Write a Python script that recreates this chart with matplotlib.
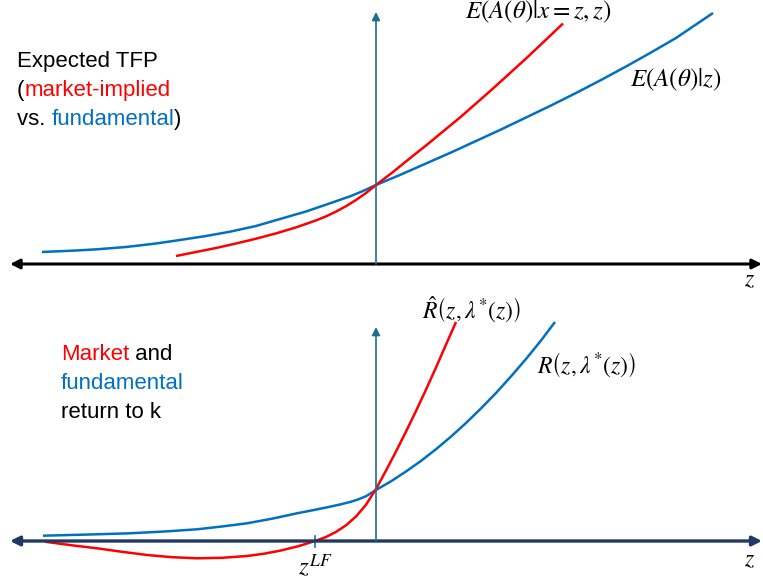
import matplotlib.pyplot as plt

plt.rcParams['font.family'] = ['Liberation Sans', 'DejaVu Sans']
plt.rcParams['mathtext.fontset'] = 'stix'

RED = '#FF0000'
BLUE = '#0070C0'
TEAL = '#1F6E8F'
NAVY = '#1F3864'

# top panel: expected TFP (z relative to the vertical axis, height above the z axis)
top_blue_z = [-334, -300, -279, -250, -220, -196, -170, -146, -120, -96, -70, -46, -25, -13, 0,
              25, 50, 75, 100, 125, 150, 175, 200, 225, 250, 275, 300, 337]
top_blue_h = [12, 13.5, 14.7, 17, 20.5, 24, 28, 32.3, 38, 45, 52.5, 60.7, 68, 73, 79,
              89.5, 100.5, 111.5, 123, 134.5, 146.5, 158.5, 171, 184, 197.5, 211.5, 226, 251]
top_red_z = [-200, -180, -160, -140, -120, -100, -80, -60, -50, -40, -30, -20, -10, 0,
             17, 33, 50, 67, 84, 100, 117, 133, 150, 167, 187]
top_red_h = [8, 12, 16, 20.5, 25.3, 30.6, 36.6, 43.6, 47.6, 52.4, 57.8, 64, 71, 79,
             92, 105, 118.5, 132.5, 146.5, 160.5, 175.5, 190, 205.5, 221.5, 240.5]

# bottom panel: market and fundamental return to k
bot_blue_z = [-333, -290, -246, -210, -179, -155, -129, -104, -79, -62, -46, -36, -26, -18, -10, 0,
              15, 30, 45, 60, 75, 90, 105, 120, 135, 150, 165, 179]
bot_blue_h = [5.3, 6.4, 7.7, 9.6, 11.7, 14.4, 17.7, 22.3, 27.7, 31, 34.3, 36.5, 39, 41.5, 44.8, 51,
              59.7, 69.5, 80.1, 91.8, 104.4, 118, 132.6, 148, 164.6, 182, 200.5, 219]
bot_red_z = [-331, -305, -279, -254, -229, -204, -179, -154, -129, -112, -96, -78, -61,
             -50, -40, -30, -20, -10, 0, 10, 20, 30, 40, 50, 60, 70, 80]
bot_red_h = [-0.7, -4.2, -7.3, -10.8, -14, -16.2, -17.3, -16.8, -15, -12.7, -9.7, -5.3, 0,
             4, 9.1, 15.7, 24.5, 36.3, 52, 70.4, 89.5, 109.4, 130, 151.4, 173.5, 196.4, 219]
z_lf = -61


def colored_line(ax, x, y, pieces, size=16):
    # draws text pieces of different colours one after another on one baseline
    fig = ax.figure
    r = fig.canvas.get_renderer()
    px, py = ax.transData.transform((x, y))
    for s, c in pieces:
        t = fig.text(px / fig.dpi / fig.get_figwidth(), py / fig.dpi / fig.get_figheight(),
                     s, color=c, fontsize=size, ha='left', va='baseline')
        px = t.get_window_extent(r).x1


def axes_arrows(ax, left, right, top, hcolor, hlw):
    ax.annotate('', xy=(right, 0), xytext=(left, 0),
                arrowprops=dict(arrowstyle='<|-|>', mutation_scale=14, lw=hlw,
                                color=hcolor, shrinkA=0, shrinkB=0))
    ax.annotate('', xy=(0, top), xytext=(0, 0),
                arrowprops=dict(arrowstyle='-|>', mutation_scale=12, lw=1.2,
                                color=TEAL, shrinkA=0, shrinkB=0))


fig = plt.figure(figsize=(7.63, 5.84), dpi=100)

ax1 = fig.add_axes([0, 1 - 290 / 584, 1, 290 / 584])
ax1.set_xlim(-376, 763 - 376)
ax1.set_ylim(-26, 264)
ax1.axis('off')
axes_arrows(ax1, -366, 386, 252, 'black', 2.2)
ax1.plot(top_blue_z, top_blue_h, color=BLUE, lw=1.8, solid_capstyle='butt')
ax1.plot(top_red_z, top_red_h, color=RED, lw=1.8, solid_capstyle='butt')
ax1.text(89, 252, r'$E(A(\theta)|x=z,z)$', fontsize=18, ha='left', va='center')
ax1.text(254, 184, r'$E(A(\theta)|z)$', fontsize=18, ha='left', va='center')
ax1.text(374, -16, r'$z$', fontsize=17, ha='center', va='center')

ax2 = fig.add_axes([0, 0, 1, 294 / 584])
ax2.set_xlim(-376, 763 - 376)
ax2.set_ylim(-43, 251)
ax2.axis('off')
axes_arrows(ax2, -366, 386, 214, NAVY, 2.4)
ax2.plot(bot_blue_z, bot_blue_h, color=BLUE, lw=1.8, solid_capstyle='butt')
ax2.plot(bot_red_z, bot_red_h, color=RED, lw=1.8, solid_capstyle='butt')
ax2.plot([z_lf, z_lf], [-6, 5], color=TEAL, lw=1.2)
ax2.text(z_lf, -26, r'$z^{LF}$', fontsize=18, ha='center', va='center')
ax2.text(46, 231, r'$\hat{R}\left(z,\lambda^{*}(z)\right)$', fontsize=17, ha='left', va='center')
ax2.text(161, 176, r'$R\left(z,\lambda^{*}(z)\right)$', fontsize=17, ha='left', va='center')
ax2.text(374, -19, r'$z$', fontsize=17, ha='center', va='center')

colored_line(ax1, -359, 197, [('Expected TFP', 'black')])
colored_line(ax1, -359, 168, [('(', 'black'), ('market-implied', RED)])
colored_line(ax1, -359, 139, [('vs. ', 'black'), ('fundamental', BLUE), (')', 'black')])

colored_line(ax2, -315, 181, [('Market', RED), (' and', 'black')])
colored_line(ax2, -315, 152, [('fundamental', BLUE)])
colored_line(ax2, -315, 123, [('return to k', 'black')])

fig.savefig('out.png', dpi=100)
